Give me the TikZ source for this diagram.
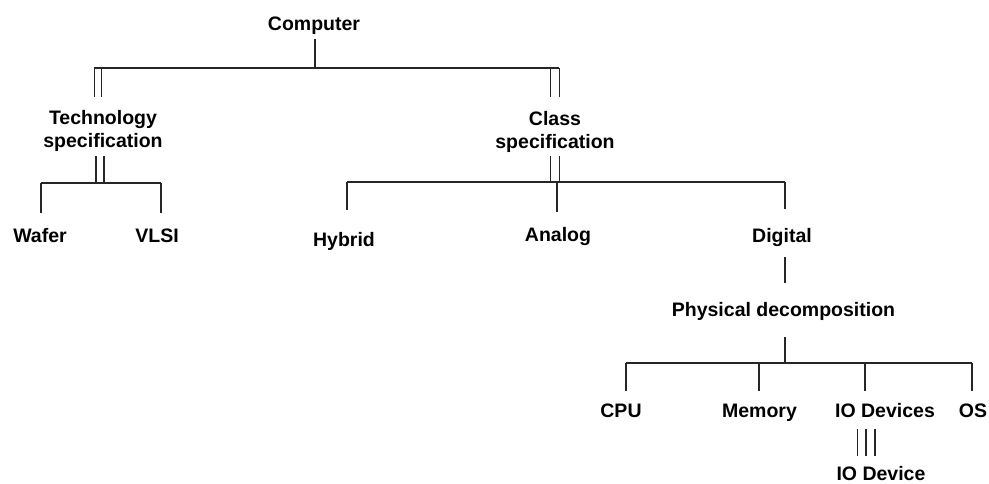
\documentclass[tikz,border=0pt]{standalone}
\usepackage{fontspec}
\setmainfont{Liberation Sans}
\begin{document}
\begin{tikzpicture}[x=1pt,y=-1pt,
  lbl/.style={font=\fontsize{19.5}{23}\selectfont\bfseries, inner sep=0pt, anchor=base},
  lbltwo/.style={lbl, anchor=north, align=center},
  wire/.style={line width=1.1pt, black!85}]
\useasboundingbox (0,0) rectangle (989,484);

% labels (single-line ones placed by their baseline)
\node[lbl]    (comp)  at (314,31)    {Computer};
\node[lbltwo] (tech)  at (103,110)   {Technology\\specification};
\node[lbltwo] (class) at (555,111)   {Class\\specification};
\node[lbl]    (wafer) at (40,243)    {Wafer};
\node[lbl]    (vlsi)  at (157,243)   {VLSI};
\node[lbl]    (hyb)   at (344,247)   {Hybrid};
\node[lbl]    (ana)   at (558,242)   {Analog};
\node[lbl]    (dig)   at (782,243)   {Digital};
\node[lbl]    (phys)  at (783.5,316) {Physical decomposition};
\node[lbl]    (cpu)   at (621,417)   {CPU};
\node[lbl]    (mem)   at (759.5,417) {Memory};
\node[lbl]    (iod)   at (885,417)   {IO Devices};
\node[lbl]    (os)    at (973,417)   {OS};
\node[lbl]    (io)    at (881,480)   {IO Device};

% Computer -> Technology / Class
\coordinate (b1L) at (94,68);
\coordinate (b1R) at (559.3,68);
\coordinate (c1)  at (315,39);
\draw[wire] (c1) -- (c1 |- b1L);
\draw[wire] (b1L) -- (b1R);
\draw[wire] (94.3,68) -- (94.3,97);
\draw[wire] (101.7,68) -- (101.7,97);
\draw[wire] (550.7,68) -- (550.7,97);
\draw[wire] (559.3,68) -- (559.3,97);

% Technology -> Wafer / VLSI
\coordinate (b2L) at (41,183);
\coordinate (b2R) at (161,183);
\draw[wire] (96,156) -- (96,183);
\draw[wire] (104,156) -- (104,183);
\draw[wire] (b2L) -- (b2R);
\draw[wire] (b2L) -- (41,213);
\draw[wire] (b2R) -- (161,213);

% Class -> Hybrid / Analog / Digital
\coordinate (b3L) at (347,182);
\coordinate (b3R) at (785,182);
\draw[wire] (550.7,156) -- (550.7,182);
\draw[wire] (559.3,156) -- (559.3,182);
\draw[wire] (b3L) -- (b3R);
\draw[wire] (b3L) -- (347,210);
\draw[wire] (557,182) -- (557,212);
\draw[wire] (b3R) -- (785,209);

% Digital -> Physical decomposition
\draw[wire] (785,257) -- (785,283);

% Physical decomposition -> parts
\coordinate (b4L) at (626,363);
\coordinate (b4R) at (972,363);
\draw[wire] (785,337) -- (785,363);
\draw[wire] (b4L) -- (b4R);
\draw[wire] (b4L) -- (626,391);
\draw[wire] (759,363) -- (759,391);
\draw[wire] (865,363) -- (865,391);
\draw[wire] (b4R) -- (972,391);

% IO Devices -> IO Device
\draw[wire] (857.7,429) -- (857.7,456);
\draw[wire] (866,429) -- (866,456);
\draw[wire] (875,429) -- (875,456);
\end{tikzpicture}
\end{document}
